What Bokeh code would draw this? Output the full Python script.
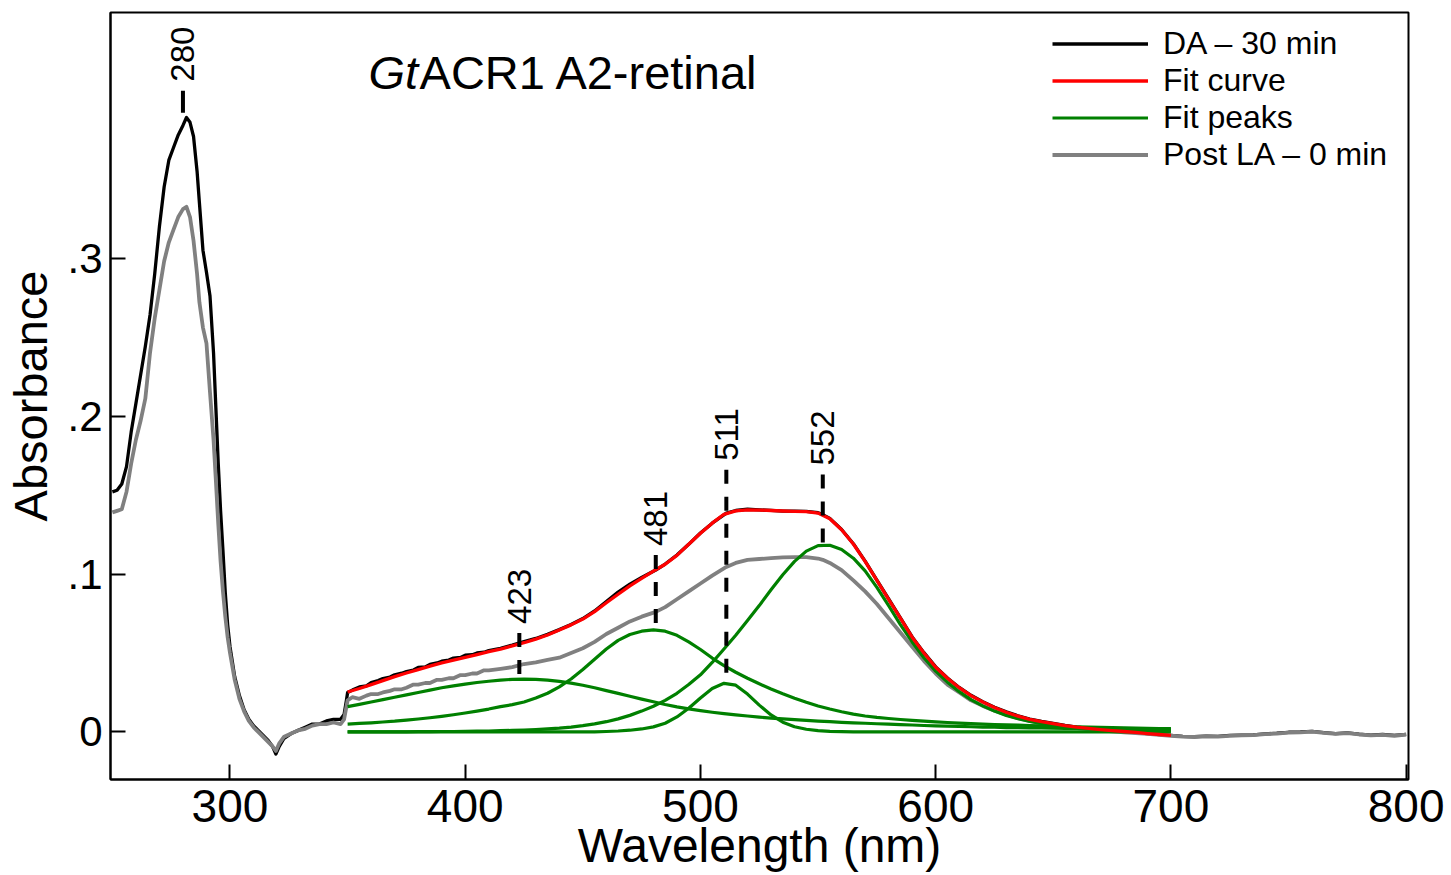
import math
from bokeh.plotting import figure
from bokeh.models import ColumnDataSource, FixedTicker, Legend, LegendItem, Range1d
from bokeh.core.properties import value
from bokeh.embed import file_html
from bokeh.resources import INLINE

# ---------------- data ----------------
da_wl = [250, 252, 254, 256, 258, 260, 262, 264, 266, 268,
         270, 272, 274, 276, 278, 280, 281.5, 283, 284.5, 286,
         287, 288.5, 290, 291.5, 293, 294, 295, 296, 297, 298,
         299, 300, 302, 304, 306, 308, 310, 312, 314, 316,
         318, 319.5, 321, 323, 326, 329, 332, 335, 338, 341,
         344, 347, 348.5, 349.5, 350, 352, 355, 358, 360, 363,
         365, 368, 370, 373, 375, 378, 380, 383, 385, 388,
         390, 393, 395, 398, 400, 403, 405, 408, 410, 415,
         420, 425, 430, 435, 440, 445, 450, 455, 460, 465,
         470, 475, 481, 485, 490, 495, 500, 505, 511, 515,
         520, 525, 530, 535, 540, 545, 550, 552, 555, 560,
         565, 570, 575, 580, 585, 590, 595, 600, 605, 610,
         615, 620, 625, 630, 635, 640, 645, 650, 655, 660,
         670, 680, 690, 700, 705, 710, 715, 720, 725, 730,
         735, 740, 745, 750, 755, 760, 765, 770, 775, 780,
         785, 790, 795, 800]

# DA - 30 min (black)
da_abs = [0.152, 0.153, 0.157, 0.168, 0.190, 0.208, 0.226, 0.244, 0.264, 0.290,
          0.320, 0.345, 0.362, 0.370, 0.378, 0.384, 0.389, 0.386, 0.377, 0.355,
          0.335, 0.305, 0.291, 0.276, 0.240, 0.205, 0.170, 0.140, 0.115, 0.088,
          0.068, 0.054, 0.035, 0.023, 0.014, 0.008, 0.004, 0.001, -0.002, -0.005,
          -0.009, -0.014, -0.009, -0.004, -0.001, 0.001, 0.003, 0.005, 0.005, 0.007,
          0.008, 0.008, 0.011, 0.020, 0.025, 0.0265, 0.0285, 0.0292, 0.0312, 0.0325,
          0.0338, 0.0348, 0.0362, 0.0372, 0.0382, 0.0392, 0.0408, 0.0412, 0.0428, 0.0437,
          0.0448, 0.0455, 0.0468, 0.0472, 0.0486, 0.0489, 0.0500, 0.0505, 0.0515, 0.0530,
          0.0550, 0.0572, 0.0592, 0.0618, 0.0648, 0.0680, 0.0718, 0.0766, 0.0826, 0.0886,
          0.0936, 0.0978, 0.1025, 0.1063, 0.1120, 0.1188, 0.1260, 0.1322, 0.1386, 0.1402,
          0.1410, 0.1406, 0.1403, 0.1398, 0.1398, 0.1396, 0.1388, 0.1376, 0.1352, 0.1282,
          0.1192, 0.1082, 0.0962, 0.0842, 0.0722, 0.0602, 0.0502, 0.0412, 0.0342, 0.0282,
          0.0232, 0.0192, 0.0157, 0.0127, 0.0102, 0.0082, 0.0067, 0.0054, 0.0041, 0.0031,
          0.0016, 0.0003, -0.0010, -0.0022, -0.0028, -0.0030, -0.0026, -0.0028, -0.0022, -0.0020,
          -0.0018, -0.0012, -0.0008, -0.0002, 0.0000, 0.0004, -0.0004, -0.0010, -0.0006, -0.0014,
          -0.0020, -0.0016, -0.0022, -0.0015]

# Post LA - 0 min (gray)
la_abs = [0.139, 0.140, 0.141, 0.152, 0.170, 0.185, 0.197, 0.211, 0.240, 0.262,
          0.280, 0.298, 0.310, 0.318, 0.326, 0.331, 0.3325, 0.326, 0.311, 0.290,
          0.272, 0.256, 0.246, 0.215, 0.185, 0.159, 0.132, 0.108, 0.089, 0.073,
          0.060, 0.050, 0.033, 0.021, 0.013, 0.007, 0.003, 0.000, -0.003, -0.006,
          -0.009, -0.012, -0.007, -0.003, -0.001, 0.001, 0.002, 0.004, 0.005, 0.005,
          0.006, 0.005, 0.008, 0.016, 0.020, 0.022, 0.021, 0.023, 0.024, 0.024,
          0.025, 0.026, 0.027, 0.027, 0.028, 0.030, 0.030, 0.031, 0.031, 0.033,
          0.033, 0.034, 0.034, 0.036, 0.036, 0.037, 0.037, 0.039, 0.039, 0.040,
          0.041, 0.043, 0.044, 0.0456, 0.047, 0.050, 0.053, 0.057, 0.062, 0.066,
          0.070, 0.073, 0.076, 0.079, 0.084, 0.089, 0.094, 0.099, 0.1045, 0.107,
          0.109, 0.1095, 0.110, 0.1105, 0.1107, 0.1107, 0.1098, 0.109, 0.107, 0.1025,
          0.096, 0.089, 0.081, 0.072, 0.063, 0.054, 0.045, 0.037, 0.030, 0.025,
          0.020, 0.0165, 0.0135, 0.011, 0.0088, 0.007, 0.0055, 0.0043, 0.0033, 0.0024,
          0.001, -0.0002, -0.0012, -0.0024, -0.003, -0.0032, -0.0028, -0.003, -0.0025, -0.0022,
          -0.002, -0.0014, -0.001, -0.0004, -0.0002, 0.0002, -0.0006, -0.0012, -0.0008, -0.0016,
          -0.0022, -0.0018, -0.0024, -0.0017]

fit_wl = [350, 355, 360, 365, 370, 375, 380, 385, 390, 395,
          400, 405, 410, 415, 420, 425, 430, 435, 440, 445,
          450, 455, 460, 465, 470, 475, 480, 485, 490, 495,
          500, 505, 510, 515, 520, 525, 530, 535, 540, 545,
          550, 555, 560, 565, 570, 575, 580, 585, 590, 595,
          600, 605, 610, 615, 620, 625, 630, 635, 640, 645,
          650, 655, 660, 665, 670, 675, 680, 685, 690, 695,
          700]

# Fit curve (red)
fit_abs = [0.0253, 0.0275, 0.0300, 0.0325, 0.0350, 0.0373, 0.0395, 0.0417, 0.0437, 0.0455,
           0.0472, 0.0490, 0.0508, 0.0525, 0.0545, 0.0565, 0.0588, 0.0614, 0.0645, 0.0678,
           0.0715, 0.0762, 0.0818, 0.0872, 0.0925, 0.0972, 0.1018, 0.1062, 0.1118, 0.1188,
           0.1258, 0.1322, 0.1378, 0.1400, 0.1406, 0.1405, 0.1402, 0.1399, 0.1397, 0.1395,
           0.1386, 0.1350, 0.1280, 0.1190, 0.1080, 0.0960, 0.0840, 0.0720, 0.0600, 0.0500,
           0.0410, 0.0340, 0.0280, 0.0230, 0.0190, 0.0155, 0.0125, 0.0100, 0.0080, 0.0065,
           0.0052, 0.0040, 0.0030, 0.0022, 0.0015, 0.0009, 0.0003, -0.0003, -0.0010, -0.0016,
           -0.0022]

# Fit peaks (green)
peak423_abs = [0.0160, 0.0175, 0.0190, 0.0205, 0.0220, 0.0235, 0.0250, 0.0265, 0.0280, 0.0292,
               0.0303, 0.0313, 0.0321, 0.0328, 0.0333, 0.0335, 0.0333, 0.0328, 0.0320, 0.0309,
               0.0296, 0.0280, 0.0262, 0.0244, 0.0226, 0.0208, 0.0191, 0.0174, 0.0159, 0.0146,
               0.0135, 0.0125, 0.0116, 0.0108, 0.0101, 0.0094, 0.0088, 0.0083, 0.0078, 0.0073,
               0.0069, 0.0065, 0.0061, 0.0058, 0.0055, 0.0052, 0.0049, 0.0046, 0.0044, 0.0041,
               0.0039, 0.0037, 0.0035, 0.0033, 0.0031, 0.0030, 0.0028, 0.0027, 0.0026, 0.0025,
               0.0024, 0.0023, 0.0022, 0.0021, 0.0020, 0.0019, 0.0018, 0.0018, 0.0017, 0.0016,
               0.0016]

peak481_abs = [0.0050, 0.0054, 0.0058, 0.0063, 0.0068, 0.0075, 0.0082, 0.0090, 0.0099, 0.0109,
               0.0120, 0.0132, 0.0145, 0.0160, 0.0173, 0.0190, 0.0215, 0.0245, 0.0285, 0.0335,
               0.0395, 0.0460, 0.0525, 0.0580, 0.0617, 0.0638, 0.0646, 0.0638, 0.0612, 0.0570,
               0.0522, 0.0468, 0.0420, 0.0378, 0.0340, 0.0305, 0.0272, 0.0242, 0.0214, 0.0188,
               0.0164, 0.0145, 0.0128, 0.0113, 0.0101, 0.0092, 0.0085, 0.0079, 0.0073, 0.0068,
               0.0064, 0.0060, 0.0056, 0.0053, 0.0050, 0.0047, 0.0045, 0.0043, 0.0041, 0.0039,
               0.0037, 0.0035, 0.0033, 0.0031, 0.0029, 0.0027, 0.0026, 0.0024, 0.0023, 0.0022,
               0.0021]

peak511_abs = [0.0, 0.0, 0.0, 0.0, 0.0, 0.0, 0.0, 0.0, 0.0, 0.0,
               0.0, 0.0, 0.0, 0.0, 0.0, 0.0, 0.0, 0.0, 0.0, 0.0,
               0.0, 0.0001, 0.0003, 0.0006, 0.0011, 0.0019, 0.0032, 0.0055, 0.0095, 0.0150,
               0.0215, 0.0275, 0.0308, 0.0296, 0.0240, 0.0170, 0.0108, 0.0062, 0.0033, 0.0017,
               0.0008, 0.0004, 0.0002, 0.0001, 0.0, 0.0, 0.0, 0.0, 0.0, 0.0,
               0.0, 0.0, 0.0, 0.0, 0.0, 0.0, 0.0, 0.0, 0.0, 0.0,
               0.0, 0.0, 0.0, 0.0, 0.0, 0.0, 0.0, 0.0, 0.0, 0.0,
               0.0]

peak552_abs = [0.0000, 0.0000, 0.0000, 0.0001, 0.0001, 0.0001, 0.0002, 0.0002, 0.0003, 0.0003,
               0.0004, 0.0005, 0.0006, 0.0008, 0.0010, 0.0012, 0.0015, 0.0019, 0.0024, 0.0031,
               0.0040, 0.0051, 0.0065, 0.0083, 0.0105, 0.0132, 0.0163, 0.0200, 0.0245, 0.0300,
               0.0362, 0.0440, 0.0525, 0.0612, 0.0705, 0.0800, 0.0900, 0.0995, 0.1080, 0.1145,
               0.1180, 0.1182, 0.1155, 0.1100, 0.1020, 0.0915, 0.0800, 0.0680, 0.0570, 0.0470,
               0.0385, 0.0315, 0.0255, 0.0205, 0.0165, 0.0132, 0.0105, 0.0084, 0.0067, 0.0054,
               0.0043, 0.0035, 0.0028, 0.0023, 0.0019, 0.0016, 0.0014, 0.0012, 0.0011, 0.0010,
               0.0009]

# peak markers
peak_wl = [280, 423, 481, 511, 552]
peak_text = ["280", "423", "481", "511", "552"]
mark_top = [0.406, 0.0627, 0.112, 0.166, 0.163]
mark_bottom = [0.392, 0.0348, 0.0665, 0.031, 0.118]

x_ticks = [300, 400, 500, 600, 700, 800]
y_ticks = [0, 0.1, 0.2, 0.3]
y_tick_text = ["0", ".1", ".2", ".3"]

title_italic = "Gt"
title_rest = "ACR1 A2-retinal"

FONT = "Liberation Sans"

# ---------------- figure ----------------
p = figure(width=1451, height=875,
           x_range=Range1d(249.2, 801.0), y_range=Range1d(-0.0301, 0.4555),
           output_backend="svg", toolbar_location=None,
           min_border_left=110, min_border_right=43,
           min_border_top=12, min_border_bottom=96)
p.background_fill_color = "white"
p.border_fill_color = "white"
p.outline_line_color = "black"
p.outline_line_width = 2
p.outline_line_alpha = 1.0
p.xgrid.visible = False
p.ygrid.visible = False

for ax in (p.xaxis[0], p.yaxis[0]):
    ax.axis_line_color = "black"
    ax.axis_line_width = 2
    ax.major_tick_line_color = "black"
    ax.major_tick_line_width = 2
    ax.major_tick_in = 15
    ax.major_tick_out = 0
    ax.minor_tick_in = 0
    ax.minor_tick_out = 0
    ax.minor_tick_line_color = None
    ax.major_label_text_font = FONT
    ax.major_label_text_color = "black"
    ax.axis_label_text_font = FONT
    ax.axis_label_text_font_style = "normal"
    ax.axis_label_text_color = "black"

xa = p.xaxis[0]
xa.ticker = FixedTicker(ticks=x_ticks)
xa.major_label_text_font_size = "46px"
xa.major_label_standoff = 10
xa.axis_label = "Wavelength (nm)"
xa.axis_label_text_font_size = "48px"
xa.axis_label_standoff = -6

ya = p.yaxis[0]
ya.ticker = FixedTicker(ticks=y_ticks)
ya.major_label_overrides = {t: s for t, s in zip(y_ticks, y_tick_text)}
ya.major_label_text_font_size = "42px"
ya.major_label_standoff = 8
ya.axis_label = "Absorbance"
ya.axis_label_text_font_size = "47px"
ya.axis_label_standoff = 7

# ---------------- curves ----------------
r_da = p.line(da_wl, da_abs, line_color="black", line_width=3.3, line_join="round")
r_la = p.line(da_wl, la_abs, line_color="#808080", line_width=3.8, line_join="round")
greens = []
for arr in (peak423_abs, peak481_abs, peak511_abs, peak552_abs):
    greens.append(p.line(fit_wl, arr, line_color="#008000", line_width=3.2, line_join="round"))
r_fit = p.line(fit_wl, fit_abs, line_color="#ff0000", line_width=3.3, line_join="round")

# ---------------- peak markers ----------------
src_first = ColumnDataSource(dict(x=peak_wl[:1], top=mark_top[:1], bot=mark_bottom[:1]))
src_rest = ColumnDataSource(dict(x=peak_wl[1:], top=mark_top[1:], bot=mark_bottom[1:]))
p.segment(x0="x", y0="top", x1="x", y1="bot", source=src_first,
          line_color="black", line_width=4)
p.segment(x0="x", y0="top", x1="x", y1="bot", source=src_rest,
          line_color="black", line_width=4, line_dash="14 13")
src_txt = ColumnDataSource(dict(x=peak_wl, y=mark_top, t=peak_text))
p.text(x="x", y="y", text="t", source=src_txt, angle=math.pi / 2,
       text_align="left", text_baseline="middle", y_offset=-9,
       text_font=value(FONT), text_font_size="33px", text_color="black")

# ---------------- title (inside the plot, top-left) ----------------
p.text(x=[358.9], y=[0.4177], text=[title_italic], text_align="left",
       text_baseline="middle", text_font=value(FONT), text_font_size="47px",
       text_font_style="italic", text_color="black")
p.text(x=[358.9], y=[0.4177], text=[title_rest], x_offset=51, text_align="left",
       text_baseline="middle", text_font=value(FONT), text_font_size="47px",
       text_color="black")

# ---------------- legend ----------------
legend = Legend(items=[
    LegendItem(label="DA \u2013 30 min", renderers=[r_da]),
    LegendItem(label="Fit curve", renderers=[r_fit]),
    LegendItem(label="Fit peaks", renderers=[greens[0]]),
    LegendItem(label="Post LA \u2013 0 min", renderers=[r_la]),
], location=(942, 606))
legend.glyph_width = 96
legend.glyph_height = 37
legend.label_height = 37
legend.spacing = 0
legend.padding = 0
legend.margin = 0
legend.label_standoff = 15
legend.label_text_font = FONT
legend.label_text_font_size = "32px"
legend.label_text_color = "black"
legend.border_line_alpha = 0
legend.background_fill_alpha = 0
p.add_layout(legend)

open("out.html", "w", encoding="utf-8").write(file_html(p, INLINE))
